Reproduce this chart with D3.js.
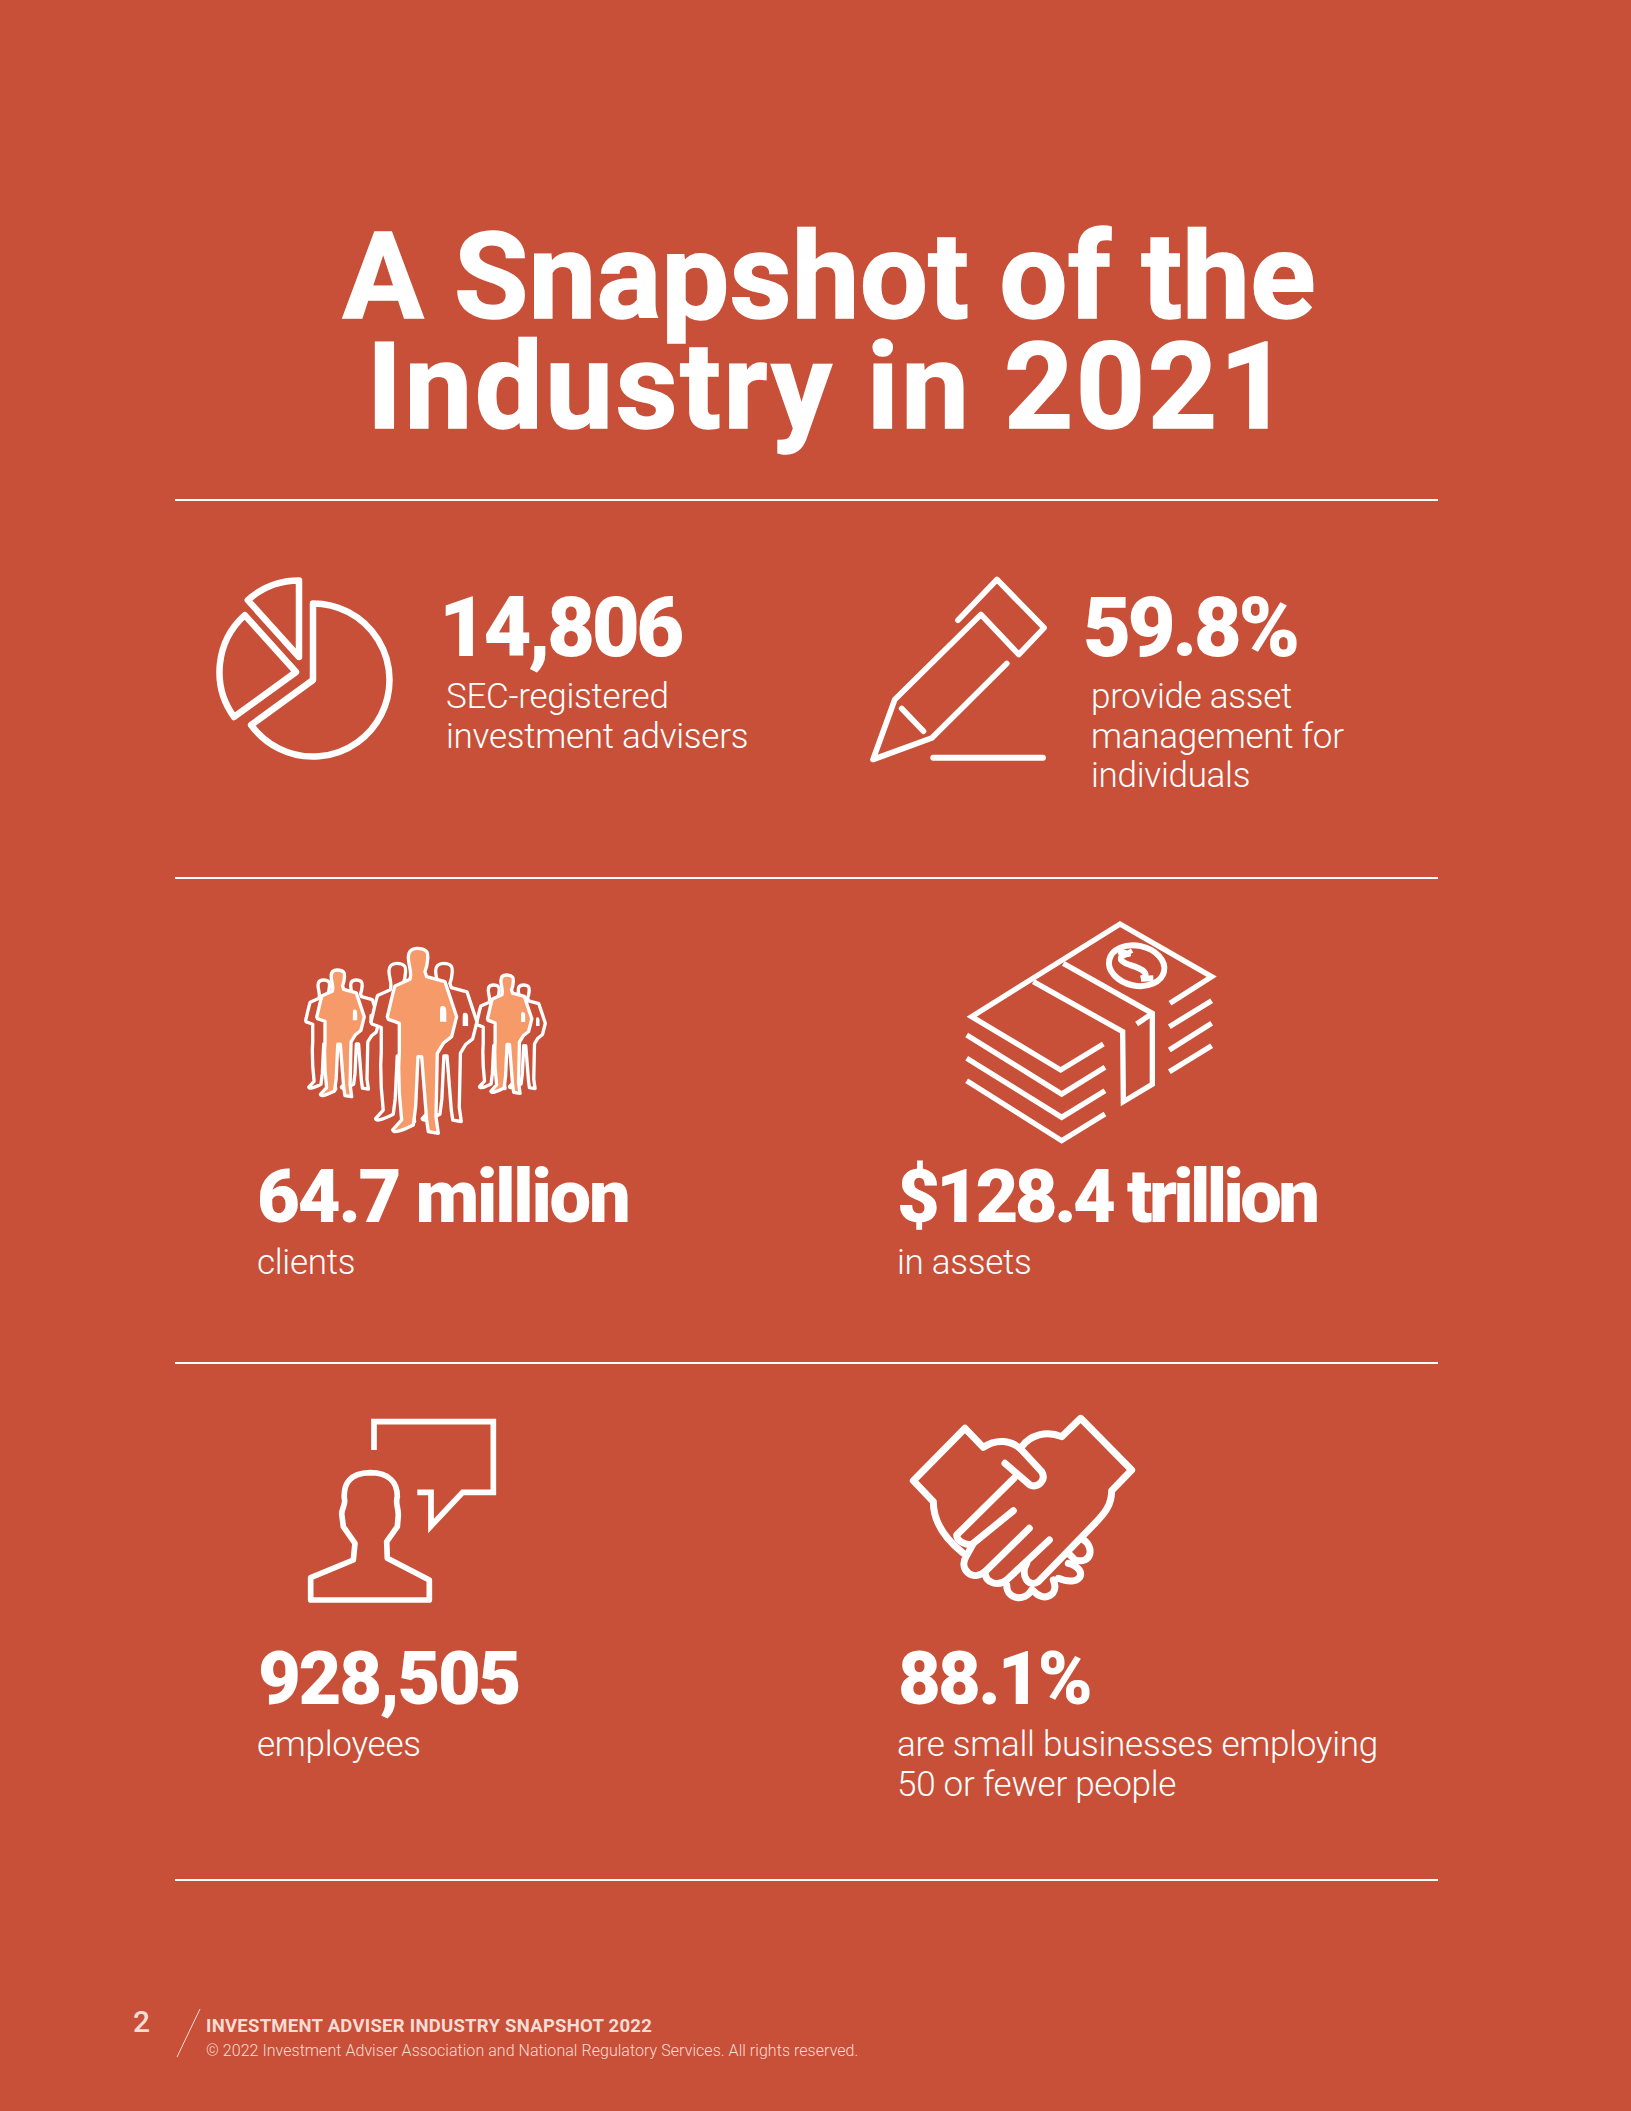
<!DOCTYPE html>
<html>
<head>
<meta charset="utf-8">
<script src="https://cdn.jsdelivr.net/npm/d3@7"></script>
<style>
  html, body { margin: 0; padding: 0; background: #C84F38; }
  svg { display: block; }
  text { font-family: Roboto, sans-serif; fill: #fff; }
</style>
</head>
<body>
<svg id="page" width="1631" height="2111"></svg>
<script>
// chart values
const titleLines = ["A Snapshot of the", "Industry in 2021"];
const statValues = ["14,806", "59.8%", "64.7 million", "$128.4 trillion", "928,505", "88.1%"];
const statLabels = [
    ["SEC-registered", "investment advisers"],
    ["provide asset", "management for", "individuals"],
    ["clients"],
    ["in assets"],
    ["employees"],
    ["are small businesses employing", "50 or fewer people"]
];
const pageNumber = "2";
const footerTitle = "INVESTMENT ADVISER INDUSTRY SNAPSHOT 2022";
const footerNote = "© 2022 Investment Adviser Association and National Regulatory Services. All rights reserved.";

// layout
const ruleYs = [500, 878, 1363, 1880];
const titleSpacing = [0.1, 2.4];
const valueX = [439, 1083, 257, 897, 258, 898];
const labelX = [446, 1091, 257, 897, 257, 897];
const valueY = [656, 656, 1222, 1222, 1704, 1704];
const labelY = [708, 708, 1274, 1274, 1756, 1756];
const valueSize = [83, 83, 74, 74, 74, 74];
const valueSpacing = [-3.5, -3.5, -2.2, -3.6, -2.3, -2.8];

const svg = d3.select("#page");
const ORANGE = "#F79A69";
const BG = "#C84F38";

svg.append("rect").attr("width", 1631).attr("height", 2111).attr("fill", BG);

// title
svg.selectAll("text.title").data(titleLines).enter().append("text")
    .attr("class", "title")
    .attr("x", 829)
    .attr("y", (d, i) => 318 + i * 109.5)
    .attr("text-anchor", "middle")
    .attr("font-size", 121)
    .attr("font-weight", 700)
    .attr("letter-spacing", (d, i) => titleSpacing[i])
    .attr("stroke", "#fff")
    .attr("stroke-width", 1.5)
    .text(d => d);

// rules
svg.selectAll("line.rule").data(ruleYs).enter().append("line")
    .attr("class", "rule")
    .attr("x1", 175).attr("x2", 1438)
    .attr("y1", d => d).attr("y2", d => d)
    .attr("stroke", "#fff").attr("stroke-width", 2);

// stat numbers
svg.selectAll("text.value").data(statValues).enter().append("text")
    .attr("class", "value")
    .attr("x", (d, i) => valueX[i])
    .attr("y", (d, i) => valueY[i])
    .attr("font-size", (d, i) => valueSize[i])
    .attr("font-weight", 900)
    .attr("letter-spacing", (d, i) => valueSpacing[i])
    .text(d => d);

// stat captions
statLabels.forEach((lines, i) => {
    svg.selectAll("text.label" + i).data(lines).enter().append("text")
        .attr("class", "label" + i)
        .attr("x", labelX[i])
        .attr("y", (d, j) => labelY[i] + j * 39.6)
        .attr("font-size", 35)
        .attr("font-weight", 300)
        .attr("letter-spacing", -0.27)
        .text(d => d);
});

// footer
svg.append("text").attr("x", 133).attr("y", 2032)
    .attr("font-size", 30).attr("font-weight", 500).style("fill", "#F8DCD3").text(pageNumber);
svg.append("line").attr("x1", 200).attr("y1", 2009).attr("x2", 177).attr("y2", 2057)
    .attr("stroke", "#F8DCD3").attr("stroke-width", 1);
svg.append("text").attr("x", 206).attr("y", 2032)
    .attr("font-size", 18.5).attr("font-weight", 700).attr("letter-spacing", 0.26)
    .style("fill", "#F8DCD3").text(footerTitle);
svg.append("text").attr("x", 206).attr("y", 2056)
    .attr("font-size", 16).attr("font-weight", 300).attr("letter-spacing", 0.045)
    .style("fill", "#F8DCD3").text(footerNote);

// icons, each in its own 3x crop space
const line = d3.line();

function iconGroup(x, y, width) {
    return svg.append("g")
        .attr("transform", `translate(${x},${y}) scale(${1 / 3})`)
        .attr("fill", "none")
        .attr("stroke", "#fff")
        .attr("stroke-width", width)
        .attr("stroke-linejoin", "round");
}

// pie icon
const slices = [
    { cx: 313, cy: 680, start: 0, end: 234 },
    { cx: 296, cy: 672, start: 234, end: 318 },
    { cx: 299, cy: 657, start: 318, end: 360 }
];
const pieArc = d3.arc().innerRadius(0).outerRadius(76.5);
svg.append("g").selectAll("path").data(slices).enter().append("path")
    .attr("transform", d => `translate(${d.cx},${d.cy})`)
    .attr("d", d => pieArc({ startAngle: d.start * Math.PI / 180, endAngle: d.end * Math.PI / 180 }))
    .attr("fill", "none").attr("stroke", "#fff").attr("stroke-width", 6.5).attr("stroke-linejoin", "round");

// pencil icon
const pencil = iconGroup(873, 579.5, 17).attr("stroke-linecap", "round");
const px = x => (x - 1207) / 1.742 * 3, py = y => y - 85;
[
    [[1355, 207], [1423, 85], [1505, 230], [1461, 310], [1395, 190], [1245, 445], [1207, 625], [1310, 560], [1440, 337]],
    [[1257, 472], [1295, 540]]
].forEach(pts => pencil.append("path").attr("d", line(pts.map(p => [px(p[0]), py(p[1])]))));
pencil.append("path").attr("d", line([[1312, 620], [1503, 620]].map(p => [px(p[0]), py(p[1])]))).attr("stroke-width", 18);

// people icon
const personPath = "M412,85 C395,85 385,95 385,112 C385,130 392,145 392,165 L390,178 L345,198 C335,230 330,260 322,290 L325,298 L345,305 L358,310 L358,400 L356,440 L358,520 L365,600 L338,630 C340,640 360,635 400,615 L407,560 L414,410 L425,410 L440,600 L445,635 L475,640 L468,590 L472,400 L490,370 L515,350 L530,290 L510,230 L495,185 L440,170 L435,155 C445,130 445,100 440,95 C435,88 420,85 412,85 Z";
const holePath = "M487,258 C497,258 499,265 499,278 L499,305 L480,305 L480,278 C480,265 480,258 487,258 Z";
const people = svg.append("g").attr("transform", "translate(280,920) scale(0.3333)");
const figures = [
    { head: 130, top: 180, s: 0.59, fill: BG },
    { head: 228, top: 180, s: 0.59, fill: BG },
    { head: 172, top: 150, s: 0.685, fill: ORANGE },
    { head: 640, top: 195, s: 0.56, fill: BG },
    { head: 730, top: 195, s: 0.56, fill: BG },
    { head: 680, top: 165, s: 0.64, fill: ORANGE },
    { head: 350, top: 130, s: 0.855, fill: BG },
    { head: 490, top: 130, s: 0.855, fill: BG },
    { head: 412, top: 85, s: 1, fill: ORANGE }
];
figures.forEach(f => {
    const g = people.append("g")
        .attr("transform", `translate(${f.head},${f.top}) scale(${f.s}) translate(-412,-85)`);
    g.append("path").attr("d", personPath).attr("fill", f.fill)
        .attr("stroke", "#fff").attr("stroke-width", 10 / f.s).attr("stroke-linejoin", "round");
    g.append("path").attr("d", holePath).attr("fill", "#fff");
});

// money icon
const money = iconGroup(940, 900, 16).attr("stroke-linejoin", "miter");
[
    [[690, 310], [815, 230], [540, 72], [95, 350], [362, 510], [490, 432]],
    [[280, 245], [548, 395], [550, 605], [637, 553], [637, 340], [370, 190]],
    [[637, 340], [590, 372]],
    [[80, 405], [365, 582], [495, 502]],
    [[80, 475], [365, 652], [495, 572]],
    [[80, 542], [365, 722], [495, 642]],
    [[688, 380], [815, 302]],
    [[688, 450], [815, 370]],
    [[688, 515], [815, 437]]
].forEach(pts => money.append("path").attr("d", line(pts)));
money.append("ellipse").attr("cx", 590).attr("cy", 197).attr("rx", 84).attr("ry", 60)
    .attr("stroke-width", 18).attr("transform", "rotate(12 590 197)");
money.append("path").attr("stroke-width", 18)
    .attr("d", "M572,160 C535,165 530,182 570,195 C612,207 632,225 603,236 M535,155 L570,162 M603,236 L640,235 M565,150 L572,162 M608,240 L618,228");

// speech icon
const speech = iconGroup(290, 1400, 17);
speech.append("path").attr("stroke-linejoin", "miter")
    .attr("d", line([[252, 150], [252, 65], [610, 65], [610, 277], [518, 277], [423, 378], [423, 277], [382, 277]]));
speech.append("path").attr("d", "M62,600 L62,533 L190,480 L195,430 L160,380 L155,340 C158,320 168,310 163,295 C160,250 180,220 240,218 C300,218 322,250 322,290 C315,310 325,320 325,345 L322,380 L290,425 L292,475 L418,540 L418,600 Z");

// handshake icon
const hands = iconGroup(890, 1400, 21).attr("stroke-linecap", "round");
hands.append("path").attr("d", "M218,458 C170,420 130,370 130,305 L70,242 L225,85 L280,142 C320,115 365,120 395,150 L455,215 C470,240 445,265 420,255 L345,190");
hands.append("path").attr("d", "M372,235 L200,405 C200,425 235,440 250,430 L370,332");
hands.append("path").attr("d", "M250,430 L228,470 C205,510 250,545 285,515 L418,385");
hands.append("path").attr("d", "M285,515 C285,550 325,560 350,540 L478,420");
hands.append("path").attr("d", "M410,490 C390,525 415,565 445,545 L610,375 C645,340 665,315 665,272 L725,210 L572,55 L515,110 C470,90 420,105 395,140");
hands.append("path").attr("d", "M578,418 C615,440 605,495 555,480 L535,460");
hands.append("path").attr("d", "M535,490 C595,505 580,565 505,535");
hands.append("path").attr("d", "M490,540 C510,585 460,610 430,572");
hands.append("path").attr("d", "M350,555 C350,600 405,605 425,570");
</script>
</body>
</html>
